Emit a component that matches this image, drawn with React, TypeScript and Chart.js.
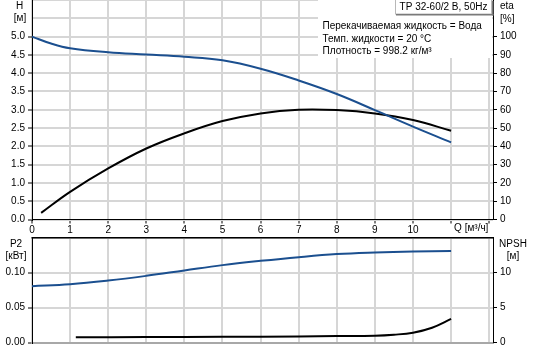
import React, { useEffect, useRef } from 'react';
import { Chart, registerables } from 'chart.js';

Chart.register(...registerables);

// ---------- data ----------
const hFlow = [0, 0.5, 1, 2, 3, 4, 5, 6, 7, 8, 9, 10, 11];
const hHead = [5.0, 4.81, 4.68, 4.57, 4.51, 4.45, 4.35, 4.12, 3.8, 3.43, 2.99, 2.54, 2.11];

const etaFlow = [0.24, 1, 2, 3, 4, 5, 6, 7, 8, 9, 10, 11];
const etaValues = [3.6, 15.1, 27.9, 38.8, 47.1, 53.8, 58.0, 60.0, 59.8, 58.0, 54.4, 48.5];

const p2Flow = [0, 1, 2, 3, 4, 5, 6, 7, 8, 9, 10, 11];
const p2Values = [0.0806, 0.0834, 0.0886, 0.0953, 0.103, 0.1106, 0.1167, 0.122, 0.1263, 0.1286, 0.130, 0.1306];

const npshFlow = [1.15, 3, 5, 7, 8, 9, 9.5, 10, 10.5, 11];
const npshValues = [0.77, 0.81, 0.84, 0.9, 0.95, 1.0, 1.14, 1.43, 2.14, 3.39];

const qTicks = [0, 1, 2, 3, 4, 5, 6, 7, 8, 9, 10, 11, 12];
const hTicks = [0, 0.5, 1, 1.5, 2, 2.5, 3, 3.5, 4, 4.5, 5, 5.5, 6];
const etaTicks = [0, 10, 20, 30, 40, 50, 60, 70, 80, 90, 100, 110, 120];
const p2Ticks = [0, 0.05, 0.1, 0.15];
const npshTicks = [0, 5, 10, 15];

const titleText = 'TP 32-60/2 B, 50Hz';
const infoLines = [
  'Перекачиваемая жидкость = Вода',
  'Темп. жидкости = 20 °C',
  'Плотность = 998.2 кг/м³',
];

// ---------- styles ----------
const FONT = '"Liberation Sans", Arial, Helvetica, sans-serif';
const BLUE = '#1b4f8f';
const GRID = '#d6d6d6';
const FONT_SIZE = 10;

const pts = (xs: number[], ys: number[]) => xs.map((x, i) => ({ x, y: ys[i] }));

const fontStr = `${FONT_SIZE}px ${FONT}`;

function setTicks(list: number[]) {
  return (s: any) => {
    s.ticks = list.map((v) => ({ value: v }));
  };
}

const topPlugin = {
  id: 'topDecor',
  beforeDatasetsDraw(chart: any) {
    const ctx = chart.ctx;
    ctx.save();
    ctx.fillStyle = '#ffffff';
    ctx.fillRect(318, 0, 174, 58);
    ctx.restore();
  },
  afterDraw(chart: any) {
    const ctx = chart.ctx;
    const y = chart.scales.y;
    ctx.save();
    ctx.font = fontStr;
    ctx.textBaseline = 'middle';
    // title box
    ctx.fillStyle = '#fff';
    ctx.fillRect(395, 0, 96, 14);
    ctx.strokeStyle = '#b8b8b8';
    ctx.lineWidth = 1;
    ctx.strokeRect(395.5, -0.5, 96, 14.5);
    ctx.fillStyle = '#7a7a7a';
    ctx.fillRect(492, 1, 1.5, 14.5);
    ctx.fillRect(396, 14, 97.5, 1.5);
    ctx.fillStyle = '#000';
    ctx.textAlign = 'center';
    ctx.fillText(titleText, 443.5, 7.5);
    // info lines
    ctx.textAlign = 'left';
    infoLines.forEach((t, i) => ctx.fillText(t, 322.5, 26.7 + i * 12.2));
    // axis titles
    const y55 = y.getPixelForValue(5.5);
    ctx.textAlign = 'center';
    ctx.fillText('H', 19.5, y55 - 12);
    ctx.fillText('[м]', 20, y55);
    ctx.textAlign = 'left';
    ctx.fillText('eta', 500, y55 - 12);
    ctx.fillText('[%]', 500, y55 + 1);
    const x = chart.scales.x;
    ctx.fillText('Q [м³/ч]', x.getPixelForValue(11) + 3, 228.5);
    ctx.restore();
  },
};

const bottomPlugin = {
  id: 'bottomDecor',
  afterDraw(chart: any) {
    const ctx = chart.ctx;
    const a = chart.chartArea;
    ctx.save();
    ctx.fillStyle = '#000';
    ctx.fillRect(a.left - 0.5, Math.floor(a.top), a.right - a.left + 1, 1.5);
    ctx.font = fontStr;
    ctx.textBaseline = 'middle';
    ctx.textAlign = 'center';
    ctx.fillText('P2', 16, 244.3 - 236);
    ctx.fillText('[кВт]', 16, 256.5 - 236);
    ctx.fillText('NPSH', 513, 244.3 - 236);
    ctx.fillText('[м]', 513, 256 - 236);
    ctx.restore();
  },
};

function tickColorUpTo(limit: number) {
  return (c: any) => (c.tick && c.tick.value <= limit + 1e-9 ? '#000' : 'rgba(0,0,0,0)');
}

function lineSet(label: string, data: any[], axis: string, color: string) {
  return {
    label,
    data,
    yAxisID: axis,
    borderColor: color,
    borderWidth: 2,
    pointRadius: 0,
    tension: 0.4,
  };
}

function makeTopConfig(): any {
  return {
    type: 'line',
    data: {
      datasets: [
        lineSet('H', pts(hFlow, hHead), 'y', BLUE),
        lineSet('eta', pts(etaFlow, etaValues), 'y2', '#000'),
      ],
    },
    options: {
      animation: false,
      responsive: false,
      maintainAspectRatio: false,
      layout: { padding: 0 },
      plugins: { legend: { display: false }, tooltip: { enabled: false }, title: { display: false } },
      scales: {
        x: {
          type: 'linear',
          position: 'bottom',
          min: 0,
          max: 12.1,
          afterBuildTicks: setTicks(qTicks),
          ticks: {
            autoSkip: false,
            maxRotation: 0,
            padding: 1,
            color: '#000',
            font: { family: FONT, size: FONT_SIZE },
            callback: (v: number) => (v <= 10 ? String(v) : ''),
          },
          grid: { color: GRID, lineWidth: 2, tickColor: '#000', tickLength: 4, tickWidth: 1 },
          border: { color: '#000', width: 1 },
          afterFit: (s: any) => {
            s.height = 16.5;
            s.paddingLeft = 0;
            s.paddingRight = 0;
          },
        },
        y: {
          type: 'linear',
          position: 'left',
          min: 0,
          max: 6,
          afterBuildTicks: setTicks(hTicks),
          ticks: {
            padding: 3,
            color: '#000',
            font: { family: FONT, size: FONT_SIZE },
            callback: (v: number) => (v <= 5 ? v.toFixed(1) : ''),
          },
          grid: { color: GRID, lineWidth: 2, tickColor: tickColorUpTo(5), tickLength: 4, tickWidth: 1 },
          border: { color: '#000', width: 1 },
          afterFit: (s: any) => {
            s.width = 32;
            s.paddingTop = 0;
            s.paddingBottom = 0;
          },
        },
        y2: {
          type: 'linear',
          position: 'right',
          min: 0,
          max: 120,
          afterBuildTicks: setTicks(etaTicks),
          ticks: {
            padding: 3,
            color: '#000',
            font: { family: FONT, size: FONT_SIZE },
            callback: (v: number) => (v <= 100 ? String(v) : ''),
          },
          grid: { drawOnChartArea: false, tickColor: tickColorUpTo(100), tickLength: 4, tickWidth: 1 },
          border: { color: '#000', width: 1 },
          afterFit: (s: any) => {
            s.width = 40;
            s.paddingTop = 0;
            s.paddingBottom = 0;
          },
        },
      },
    },
    plugins: [topPlugin],
  };
}

function makeBottomConfig(): any {
  return {
    type: 'line',
    data: {
      datasets: [
        lineSet('P2', pts(p2Flow, p2Values), 'y', BLUE),
        lineSet('NPSH', pts(npshFlow, npshValues), 'y2', '#000'),
      ],
    },
    options: {
      animation: false,
      responsive: false,
      maintainAspectRatio: false,
      layout: { padding: { top: 1.5, left: 0, right: 0, bottom: 0 } },
      plugins: { legend: { display: false }, tooltip: { enabled: false }, title: { display: false } },
      scales: {
        x: {
          type: 'linear',
          position: 'bottom',
          min: 0,
          max: 12.1,
          afterBuildTicks: setTicks(qTicks),
          ticks: { display: false },
          grid: { color: GRID, lineWidth: 2, drawTicks: false },
          border: { color: '#a8a8a8', width: 2 },
          afterFit: (s: any) => {
            s.height = 8.3;
            s.paddingLeft = 0;
            s.paddingRight = 0;
          },
        },
        y: {
          type: 'linear',
          position: 'left',
          min: 0,
          max: 0.15,
          afterBuildTicks: setTicks(p2Ticks),
          ticks: {
            padding: 3,
            color: '#000',
            font: { family: FONT, size: FONT_SIZE },
            callback: (v: number) => (v < 0.14 ? v.toFixed(2) : ''),
          },
          grid: { color: GRID, lineWidth: 2, tickColor: tickColorUpTo(0.1), tickLength: 4, tickWidth: 1 },
          border: { color: '#000', width: 1 },
          afterFit: (s: any) => {
            s.width = 32;
            s.paddingTop = 0;
            s.paddingBottom = 0;
          },
        },
        y2: {
          type: 'linear',
          position: 'right',
          min: 0,
          max: 15,
          afterBuildTicks: setTicks(npshTicks),
          ticks: {
            padding: 3,
            color: '#000',
            font: { family: FONT, size: FONT_SIZE },
            callback: (v: number) => (v <= 10 ? String(v) : ''),
          },
          grid: { drawOnChartArea: false, tickColor: tickColorUpTo(10), tickLength: 4, tickWidth: 1 },
          border: { color: '#000', width: 1 },
          afterFit: (s: any) => {
            s.width = 40;
            s.paddingTop = 0;
            s.paddingBottom = 0;
          },
        },
      },
    },
    plugins: [bottomPlugin],
  };
}

export default function App() {
  const topRef = useRef<HTMLCanvasElement | null>(null);
  const bottomRef = useRef<HTMLCanvasElement | null>(null);

  useEffect(() => {
    document.body.style.margin = '0';
    document.body.style.background = '#fff';
    Chart.defaults.font.family = FONT;
    Chart.defaults.font.size = FONT_SIZE;
    Chart.defaults.color = '#000';
    const c1 = new Chart(topRef.current as HTMLCanvasElement, makeTopConfig());
    const c2 = new Chart(bottomRef.current as HTMLCanvasElement, makeBottomConfig());
    return () => {
      c1.destroy();
      c2.destroy();
    };
  }, []);

  return (
    <div style={{ position: 'relative', width: 533, height: 351, background: '#fff', overflow: 'hidden' }}>
      <canvas
        ref={topRef}
        width={533}
        height={236}
        style={{ position: 'absolute', left: 0, top: 0, width: 533, height: 236 }}
      />
      <canvas
        ref={bottomRef}
        width={533}
        height={115}
        style={{ position: 'absolute', left: 0, top: 236, width: 533, height: 115 }}
      />
    </div>
  );
}
